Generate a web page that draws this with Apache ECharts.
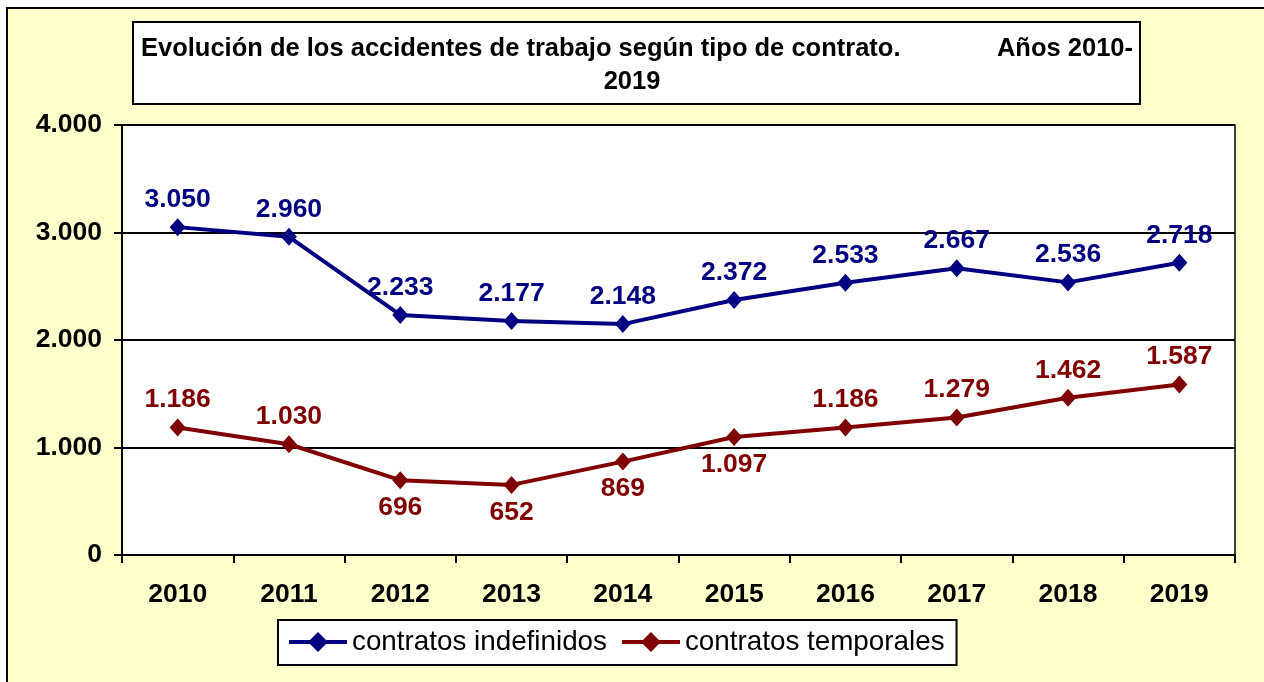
<!DOCTYPE html>
<html>
<head>
<meta charset="utf-8">
<script src="https://cdn.jsdelivr.net/npm/echarts@6/dist/echarts.min.js"></script>
<style>
  html, body { margin: 0; padding: 0; background: #fff; }
  #chart { width: 1264px; height: 682px; }
</style>
</head>
<body>
<div id="chart"></div>
<script>
// datos del gráfico
const years = ['2010', '2011', '2012', '2013', '2014', '2015', '2016', '2017', '2018', '2019']
const indefinidos = [3050, 2960, 2233, 2177, 2148, 2372, 2533, 2667, 2536, 2718]
const temporales = [1186, 1030, 696, 652, 869, 1097, 1186, 1279, 1462, 1587]
const temporalesBelow = [2, 3, 4, 5] // etiquetas debajo del punto
const yTicks = [0, 1000, 2000, 3000, 4000]

const font = 'Liberation Sans, Arial, Helvetica, sans-serif'
const fmt = v => String(v).replace(/\B(?=(\d{3})+(?!\d))/g, '.')

const chart = echarts.init(document.getElementById('chart'))

const blue = '#000080'
const red = '#800000'

chart.setOption({
  animation: false,
  textStyle: { fontFamily: font },
  graphic: [
    {
      type: 'rect', z: -10,
      shape: { x: 7, y: 8, width: 1300, height: 720 },
      style: { fill: '#FFFFCC', stroke: '#000', lineWidth: 2 }
    },
    {
      type: 'rect', z: -5,
      shape: { x: 133, y: 22, width: 1007, height: 82 },
      style: { fill: '#fff', stroke: '#000', lineWidth: 2 }
    }
  ],
  title: [
    {
      text: 'Evolución de los accidentes de trabajo según tipo de contrato.',
      left: 136, top: 31,
      textStyle: { fontSize: 25.5, fontWeight: 'bold', color: '#000', fontFamily: font }
    },
    {
      text: 'Años 2010-',
      right: 1264 - 1138, top: 31,
      textStyle: { fontSize: 25.5, fontWeight: 'bold', color: '#000', fontFamily: font }
    },
    {
      text: '2019',
      left: 'center', top: 64,
      textStyle: { fontSize: 25.5, fontWeight: 'bold', color: '#000', fontFamily: font }
    }
  ],
  grid: {
    left: 122, right: 29, top: 125, bottom: 127,
    show: true, backgroundColor: '#fff', borderColor: '#000', borderWidth: 1.5
  },
  legend: {
    left: 278, top: 620,
    padding: [8, 12, 9, 9],
    backgroundColor: '#fff', borderColor: '#000', borderWidth: 2,
    itemWidth: 58, itemHeight: 25, itemGap: 13,
    lineStyle: { width: 4 },
    textStyle: { fontSize: 27.8, color: '#000', fontFamily: font },
    data: ['contratos indefinidos', 'contratos temporales']
  },
  xAxis: {
    type: 'category',
    data: years,
    boundaryGap: true,
    axisLine: { lineStyle: { color: '#000', width: 2 } },
    axisTick: { show: true, length: 8, lineStyle: { color: '#000', width: 2 } },
    axisLabel: { color: '#000', fontSize: 26.5, fontWeight: 'bold', margin: 26, fontFamily: font }
  },
  yAxis: {
    type: 'value',
    min: yTicks[0], max: yTicks[yTicks.length - 1], interval: 1000,
    axisLine: { show: true, lineStyle: { color: '#000', width: 2 } },
    axisTick: { show: true, length: 8, lineStyle: { color: '#000', width: 2 } },
    splitLine: { lineStyle: { color: '#000', width: 2 } },
    axisLabel: { color: '#000', fontSize: 26.5, fontWeight: 'bold', margin: 20, fontFamily: font, formatter: fmt }
  },
  series: [
    {
      name: 'contratos indefinidos',
      type: 'line',
      data: indefinidos,
      symbol: 'diamond', symbolSize: [16, 18],
      itemStyle: { color: blue },
      lineStyle: { color: blue, width: 4 },
      label: {
        show: true, position: 'top', distance: 5,
        color: blue, fontSize: 26.5, fontWeight: 'bold', fontFamily: font,
        formatter: p => fmt(p.value)
      }
    },
    {
      name: 'contratos temporales',
      type: 'line',
      data: temporales.map((v, i) => ({
        value: v,
        label: { position: temporalesBelow.includes(i) ? 'bottom' : 'top' }
      })),
      symbol: 'diamond', symbolSize: [16, 18],
      itemStyle: { color: red },
      lineStyle: { color: red, width: 4 },
      label: {
        show: true, position: 'top', distance: 5,
        color: red, fontSize: 26.5, fontWeight: 'bold', fontFamily: font,
        formatter: p => fmt(p.value)
      }
    }
  ]
})
</script>
</body>
</html>
